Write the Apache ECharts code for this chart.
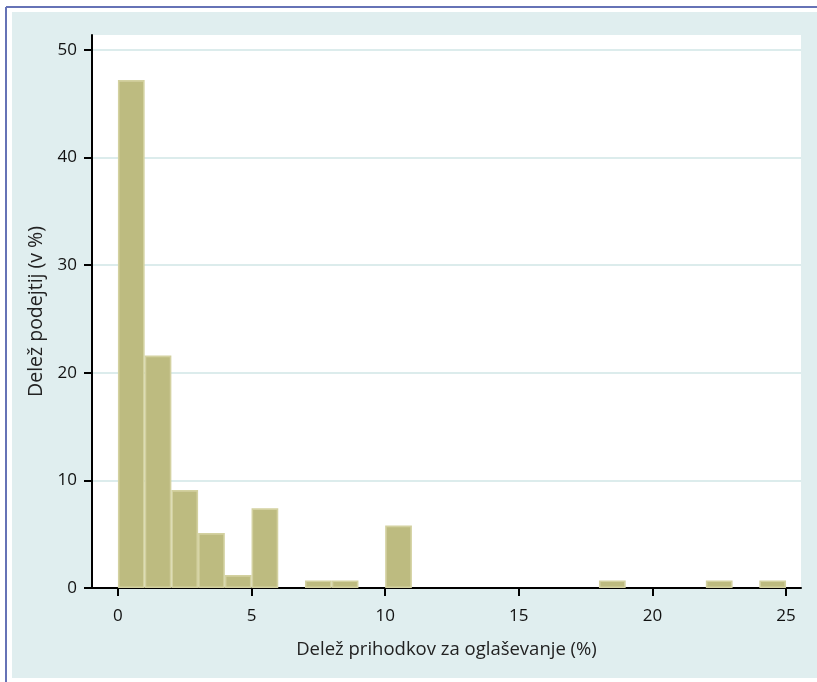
<!DOCTYPE html>
<html>
<head>
<meta charset="utf-8">
<script src="https://cdn.jsdelivr.net/npm/echarts@6/dist/echarts.min.js"></script>
<style>html,body{margin:0;padding:0;background:#fff;}#c{width:817px;height:682px;}</style>
</head>
<body>
<div id="c"></div>
<script>
// Histogram bins (percent of revenue spent on advertising) and share of companies (%)
const binStart = [0, 1, 2, 3, 4, 5, 7, 8, 10, 18, 22, 24];
const binEnd   = [1, 2, 3, 4, 5, 6, 8, 9, 11, 19, 23, 25];
const share    = [47.2, 21.6, 9.1, 5.1, 1.2, 7.4, 0.7, 0.7, 5.8, 0.7, 0.7, 0.7];
const xTicks = [0, 5, 10, 15, 20, 25];
const yTicks = [0, 10, 20, 30, 40, 50];
const xTitle = 'Delež prihodkov za oglaševanje (%)';
const yTitle = 'Delež podejtij (v %)';

const data = binStart.map((s, i) => [s, binEnd[i], share[i]]);
const font = '"Open Sans", "Noto Sans", sans-serif';

const chart = echarts.init(document.getElementById('c'), null, {renderer: 'canvas'});
chart.setOption({
  backgroundColor: '#ffffff',
  animation: false,
  graphic: [
    {type: 'rect', z: -10, shape: {x: 12, y: 12, width: 805, height: 666}, style: {fill: '#e0eeef'}},
    {type: 'line', z: -5, shape: {x1: 6, y1: 7, x2: 817, y2: 7}, style: {stroke: '#6673b6', lineWidth: 2}},
    {type: 'line', z: -5, shape: {x1: 6, y1: 7, x2: 6, y2: 682}, style: {stroke: '#6673b6', lineWidth: 2}}
  ],
  grid: {left: 92, right: 16, top: 35, bottom: 94, show: true, backgroundColor: '#ffffff', borderWidth: 0, containLabel: false},
  xAxis: {
    type: 'value', min: -0.97, max: 25.56,
    name: xTitle, nameLocation: 'middle', nameGap: 52,
    nameTextStyle: {fontFamily: font, fontSize: 18.5, color: '#222'},
    axisLine: {show: true, onZero: false, lineStyle: {color: '#000', width: 2}},
    axisTick: {show: true, length: 8, lineStyle: {color: '#000', width: 2}, customValues: xTicks},
    axisLabel: {customValues: xTicks, margin: 20, fontFamily: font, fontSize: 17, color: '#111'},
    splitLine: {show: false}
  },
  yAxis: {
    type: 'value', min: 0, max: 51.39,
    name: yTitle, nameLocation: 'middle', nameGap: 45, nameRotate: 90,
    nameTextStyle: {fontFamily: font, fontSize: 19.5, color: '#222'},
    axisLine: {show: true, onZero: false, lineStyle: {color: '#000', width: 2}},
    axisTick: {show: true, length: 8, lineStyle: {color: '#000', width: 2}, customValues: yTicks},
    axisLabel: {customValues: yTicks, margin: 15, fontFamily: font, fontSize: 17, color: '#111'},
    splitLine: {show: true, lineStyle: {color: '#dcecec', width: 2}}
  },
  series: [{
    type: 'custom',
    clip: true,
    encode: {x: [0, 1], y: 2},
    data: data,
    renderItem: function (params, api) {
      const p0 = api.coord([api.value(0), api.value(2)]);
      const p1 = api.coord([api.value(1), 0]);
      const lw = 1.6;
      return {
        type: 'rect',
        shape: {x: p0[0] + lw / 2, y: p0[1] + lw / 2, width: p1[0] - p0[0] - lw, height: p1[1] - p0[1] - lw},
        style: {fill: '#bdbb80', stroke: '#d3d1a0', lineWidth: lw}
      };
    }
  }]
});
</script>
</body>
</html>
